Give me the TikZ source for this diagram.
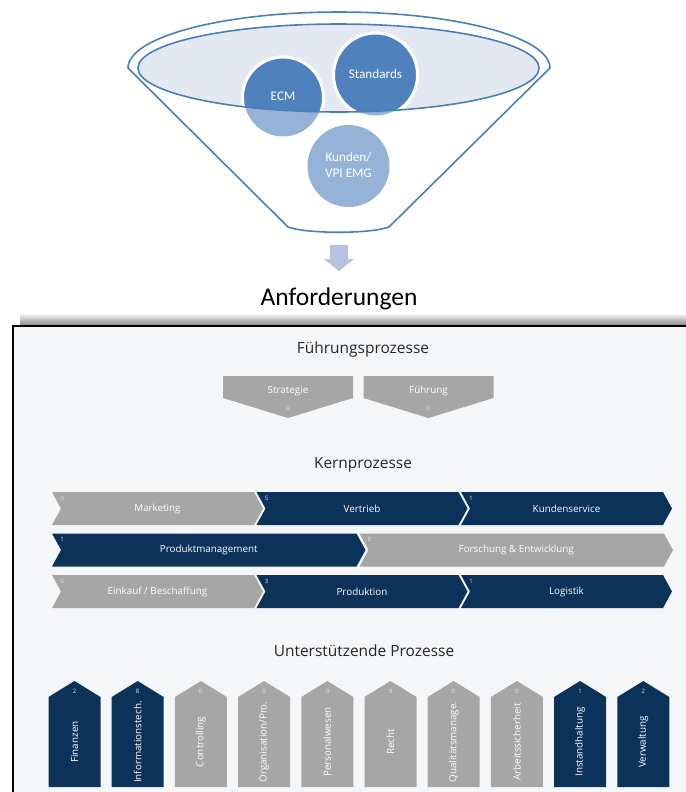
\documentclass[tikz,border=0pt]{standalone}
\usepackage{fontspec}
\setmainfont{Open Sans}
\newfontfamily\calibri{Carlito}
\usetikzlibrary{calc}

\definecolor{funnelblue}{HTML}{4A7EBB}
\definecolor{ellfill}{HTML}{E3E8F2}
\definecolor{circdark}{HTML}{4F81BD}
\definecolor{circlight}{HTML}{95B3D7}
\definecolor{arrowblue}{HTML}{B4C4E0}
\definecolor{mapbg}{HTML}{F5F6F8}
\definecolor{navy}{HTML}{0C3259}
\definecolor{procgray}{HTML}{A6A6A6}

\tikzset{
  funnel/.style={draw=funnelblue, line width=0.9pt},
  circtext/.style={font=\calibri\fontsize{7.5}{8.6}\selectfont, text=white, align=center, inner sep=0pt},
  anfo/.style={font=\calibri\fontsize{14.5}{17}\selectfont, inner sep=0pt},
  heading/.style={font=\fontsize{8.8}{10}\selectfont, text=black!85, inner sep=0pt},
  chevlabel/.style={font=\fontsize{5.6}{6.5}\selectfont, text=white, inner sep=0pt},
  chevnum/.style={font=\fontsize{3.4}{4}\selectfont, text=white!90!black, inner sep=0pt},
}

% chevron: name, left x, top y : body width, colour, count, label
\def\chev(#1)(#2,#3:#4)[#5]#6#7{%
  \fill[#5] (#2,#3) -- ++(#4,0) -- ++(9,16.5) -- ++(-9,16.5) -- ++(-#4,0) -- ++(9,-16.5) -- cycle;
  \node[chevnum] (#1-n) at (#2+10,#3+6) {#6};
  \node[chevlabel] (#1) at ({#2+(#4+9)/2},#3+16.5) {#7};}
% pentagon pointing down: name, centre x, top y, colour, label, count
\def\pentdown(#1)(#2,#3)[#4]#5#6{%
  \fill[#4] (#2-65,#3) -- ++(130,0) -- ++(0,22) -- ++(-65,20) -- ++(-65,-20) -- cycle;
  \node[chevlabel] (#1) at (#2,#3+15) {#5};
  \node[chevnum] (#1-n) at (#2,#3+32) {#6};}
% pillar pointing up: name, left x, colour, count, label
\def\pillar(#1)(#2)[#3]#4#5{%
  \fill[#3] (#2,787) -- (#2,697) -- ++(26,-16) -- ++(26,16) -- (#2+52,787) -- cycle;
  \node[chevnum] (#1-n) at (#2+26,691) {#4};
  \node[chevlabel, rotate=90] (#1) at (#2+26,742) {#5};}

\begin{document}
\begin{tikzpicture}[x=0.02cm, y=-0.02cm]
		%%%%% START %%%%%
		\path[use as bounding box] (0,0) rectangle (686,792);
		\clip (0,0) rectangle (686,792);
		\fill[white] (0,0) rectangle (686,792);
		
		% funnel
		\draw[funnel, fill=white] (128,68) arc[start angle=180, end angle=360, x radius=211, y radius=56]
		  -- (389,227) .. controls (370,234) and (307,234) .. (288,227) -- cycle;
		\fill[ellfill] (338.5,68) ellipse [x radius=200.5, y radius=44];
		
		\fill[circlight, draw=white, line width=1.7pt] (283,97.5) circle[radius=40.5];
		\fill[circlight, draw=white, line width=1.7pt] (375.5,75) circle[radius=42];
		\fill[circlight] (348.5,166) circle[radius=41];
		\begin{scope}
		  \clip (338.5,68) ellipse [x radius=200.5, y radius=44];
		  \fill[circdark, draw=white, line width=1.7pt] (283,97.5) circle[radius=40.5];
		  \fill[circdark, draw=white, line width=1.7pt] (375.5,75) circle[radius=42];
		\end{scope}
		\draw[funnel] (338.5,68) ellipse [x radius=200.5, y radius=44];
		
		\node[circtext] (ecm) at (283,96) {ECM};
		\node[circtext] (standards) at (375.5,74) {Standards};
		\node[circtext] (kunden) at (348.5,165) {Kunden/\\VPI EMG};
		
		% arrow down to the result
		\coordinate (funnel-out) at (339,245);
		\fill[arrowblue] (funnel-out) ++(-9,0) -- ++(18,0) -- ++(0,14) -- ++(6,0) -- ++(-15,12) -- ++(-15,-12) -- ++(6,0) -- cycle;
		\node[anfo, anchor=base] (anforderungen) at (339,305) {Anforderungen};
		
		% process map frame
		\shade[top color=white, bottom color=black!50] (20,313) rectangle (700,326);
		\draw[line width=1.1pt, fill=mapbg] (13,326) rectangle (700,810);
		
		\node[heading, anchor=base] (fp-head) at (363,353) {Führungsprozesse};
		\pentdown(strategie)(288,376)[procgray]{Strategie}{0}
		\pentdown(fuehrung)(428.5,376)[procgray]{Führung}{0}
		
		\node[heading, anchor=base] (kp-head) at (363,468) {Kernprozesse};
		\chev(marketing)(52,492:202)[procgray]{0}{Marketing}
		\chev(vertrieb)(256.5,492:202)[navy]{5}{Vertrieb}
		\chev(kundenservice)(461,492:202)[navy]{1}{Kundenservice}
		
		\chev(produktmgmt)(52,533.5:304.5)[navy]{1}{Produktmanagement}
		\chev(forschung)(359.5,533.5:304.5)[procgray]{0}{Forschung \& Entwicklung}
		
		\chev(einkauf)(52,575:202)[procgray]{0}{Einkauf / Beschaffung}
		\chev(produktion)(256.5,575:202)[navy]{3}{Produktion}
		\chev(logistik)(461,575:202)[navy]{1}{Logistik}
		
		\node[heading, anchor=base] (up-head) at (364,656) {Unterstützende Prozesse};
		\pillar(finanzen)(48.5)[navy]{2}{Finanzen}
		\pillar(it)(111.7)[navy]{8}{Informationstech.}
		\pillar(controlling)(174.9)[procgray]{0}{Controlling}
		\pillar(organisation)(238.1)[procgray]{0}{Organisation/Pro.}
		\pillar(personal)(301.3)[procgray]{0}{Personalwesen}
		\pillar(recht)(364.5)[procgray]{0}{Recht}
		\pillar(qualitaet)(427.7)[procgray]{0}{Qualitätsmanage.}
		\pillar(arbeit)(490.9)[procgray]{0}{Arbeitssicherheit}
		\pillar(instand)(554.1)[navy]{1}{Instandhaltung}
		\pillar(verwaltung)(617.3)[navy]{2}{Verwaltung}
		
		%%%%% END %%%%%
\end{tikzpicture}
\end{document}
